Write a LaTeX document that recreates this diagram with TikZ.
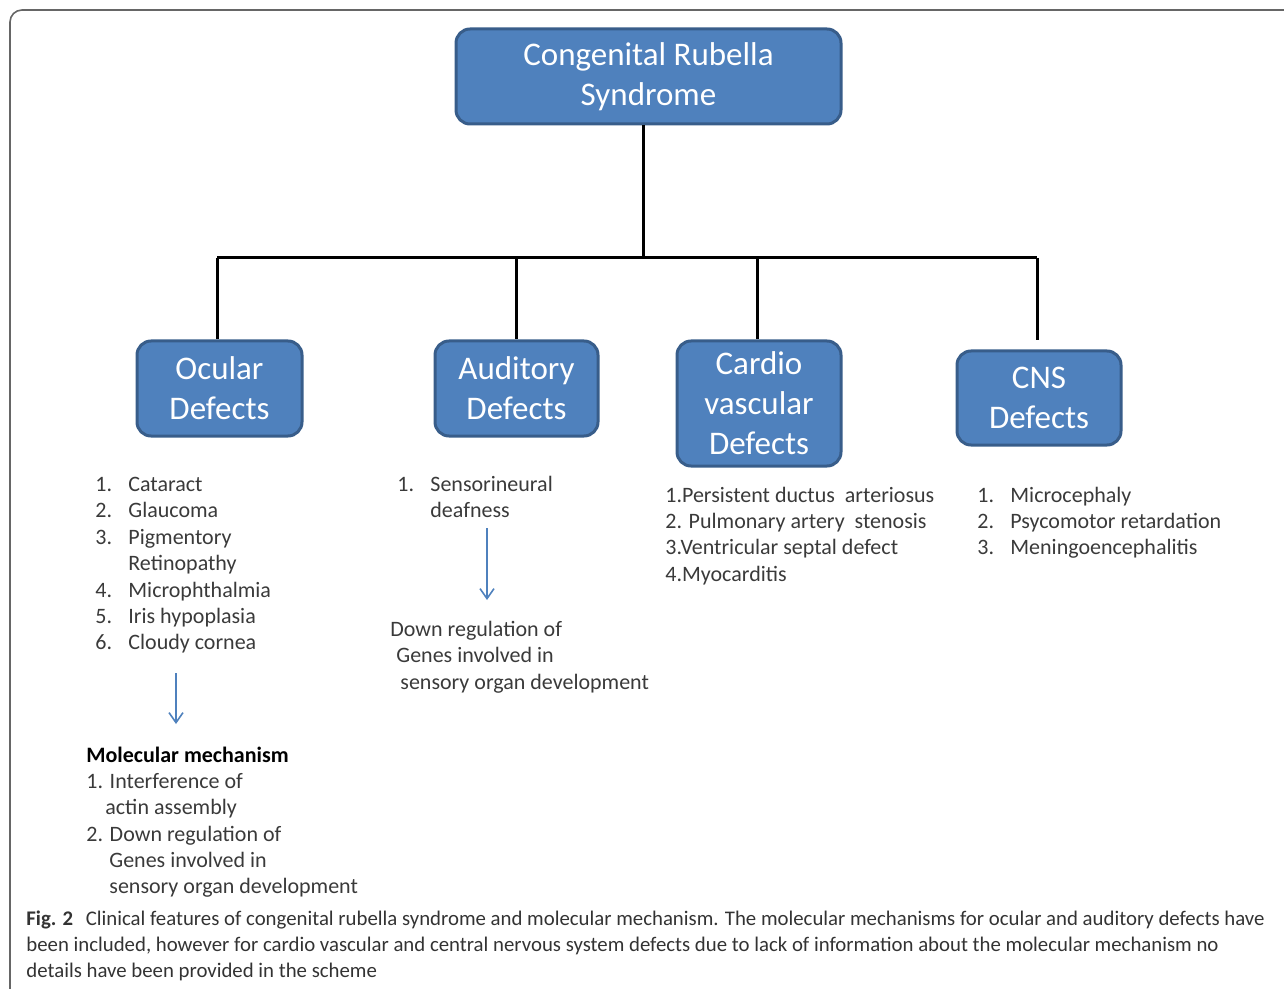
\documentclass[tikz,border=0pt]{standalone}
\usepackage{fontspec}
\setmainfont{Carlito}
\usetikzlibrary{arrows.meta}
\definecolor{boxblue}{HTML}{4F81BD}
\definecolor{boxedge}{HTML}{385D8A}
\definecolor{txt}{HTML}{3A3A3A}
\definecolor{captxt}{HTML}{333333}
\definecolor{framec}{HTML}{666666}
\begin{document}
\begin{tikzpicture}[x=0.5pt,y=-0.5pt,
  catbox/.style={draw=boxedge, line width=1.5pt, fill=boxblue, rounded corners=7pt, text=white,
    font=\fontsize{16.5}{20}\selectfont, align=center, inner sep=0pt},
  item/.style={anchor=base west, inner sep=0pt, text=txt, font=\fontsize{11}{13}\selectfont},
  captext/.style={anchor=base west, inner sep=0pt, text=captxt, font=\fontsize{10.4}{13}\selectfont},
  tree/.style={line width=1.5pt, black},
  down/.style={draw=boxblue, line width=0.8pt, -{Straight Barb[length=5pt,width=7pt]}},
  frameline/.style={draw=framec, line width=0.8pt, rounded corners=6pt}]
\useasboundingbox (0,0) rectangle (1284,989);
% frame
\draw[frameline] (10,989) -- (10,10) -- (1284,10);

% boxes
\node[catbox, minimum width=192.5pt, minimum height=47.5pt] (crs) at (648.5,76.5) {Congenital Rubella\\Syndrome};
\node[catbox, minimum width=82.5pt, minimum height=47.5pt] (ocu) at (219.5,388.5) {Ocular\\Defects};
\node[catbox, minimum width=81.5pt, minimum height=47.5pt] (aud) at (516.5,388.5) {Auditory\\Defects};
\node[catbox, minimum width=82pt, minimum height=62.5pt] (car) at (759,403.5) {Cardio\\vascular\\Defects};
\node[catbox, minimum width=82pt, minimum height=47pt] (cns) at (1039,398) {CNS\\Defects};

% tree
\coordinate (hub) at (643,258);
\coordinate (hl) at (217,258);
\coordinate (hr) at (1037,258);
\coordinate (cnsend) at (1037,340);
\draw[tree] (crs.south -| hub) -- (hub);
\draw[tree] (hl) -- (hr);
\draw[tree] (hl) -- (hl |- ocu.north);
\draw[tree] (aud.north |- hl) -- (aud.north);
\draw[tree] (757,258) coordinate (cv) -- (cv |- car.north);
\draw[tree] (hr) -- (cnsend);

% ocular list
\node[item] (o1n) at (95,491) {1.};  \node[item] (o1) at (128,491) {Cataract};
\node[item] (o2n) at (95,517) {2.};  \node[item] (o2) at (128,517) {Glaucoma};
\node[item] (o3n) at (95,544) {3.};  \node[item] (o3) at (128,544) {Pigmentory};
\node[item] (o3b) at (128,570) {Retinopathy};
\node[item] (o4n) at (95,597) {4.};  \node[item] (o4) at (128,597) {Microphthalmia};
\node[item] (o5n) at (95,623) {5.};  \node[item] (o5) at (128,623) {Iris hypoplasia};
\node[item] (o6n) at (95,649) {6.};  \node[item] (o6) at (128,649) {Cloudy cornea};

\coordinate (oa1) at (176,673);
\coordinate (oa2) at (176,724);
\draw[down] (oa1) -- (oa2);

\node[item, font=\fontsize{11}{13}\selectfont\bfseries, text=black] (mm) at (86,762) {Molecular mechanism};
\node[item] (m1) at (86,788) {1. Interference of};
\node[item] (m1b) at (105,814) {actin assembly};
\node[item] (m2) at (86,841) {2. Down regulation of};
\node[item] (m2b) at (109,867) {Genes involved in};
\node[item] (m2c) at (109,893) {sensory organ development};

% auditory list
\node[item] (a1n) at (397,491) {1.}; \node[item] (a1) at (430,491) {Sensorineural};
\node[item] (a1b) at (430,517) {deafness};
\coordinate (aa1) at (487,528);
\coordinate (aa2) at (487,600);
\draw[down] (aa1) -- (aa2);
\node[item] (ad1) at (390,636) {Down regulation of};
\node[item] (ad2) at (396,662) {Genes involved in};
\node[item] (ad3) at (400,689) {sensory organ development};

% cardio list
\node[item] (c1) at (665,502) {1.Persistent ductus\ \ arteriosus};
\node[item] (c2) at (665,528) {2. Pulmonary artery\ \ stenosis};
\node[item] (c3) at (665,554) {3.Ventricular septal defect};
\node[item] (c4) at (665,581) {4.Myocarditis};

% CNS list
\node[item] (n1n) at (977,502) {1.}; \node[item] (n1) at (1010,502) {Microcephaly};
\node[item] (n2n) at (977,528) {2.}; \node[item] (n2) at (1010,528) {Psycomotor retardation};
\node[item] (n3n) at (977,554) {3.}; \node[item] (n3) at (1010,554) {Meningoencephalitis};

% caption
\node[captext] (cap1) at (26,925) {\textbf{Fig. 2}\hspace{0.6em}Clinical features of congenital rubella syndrome and molecular mechanism. The molecular mechanisms for ocular and auditory defects have};
\node[captext] (cap2) at (26,951) {been included, however for cardio vascular and central nervous system defects due to lack of information about the molecular mechanism no};
\node[captext] (cap3) at (26,977) {details have been provided in the scheme};
\end{tikzpicture}
\end{document}
